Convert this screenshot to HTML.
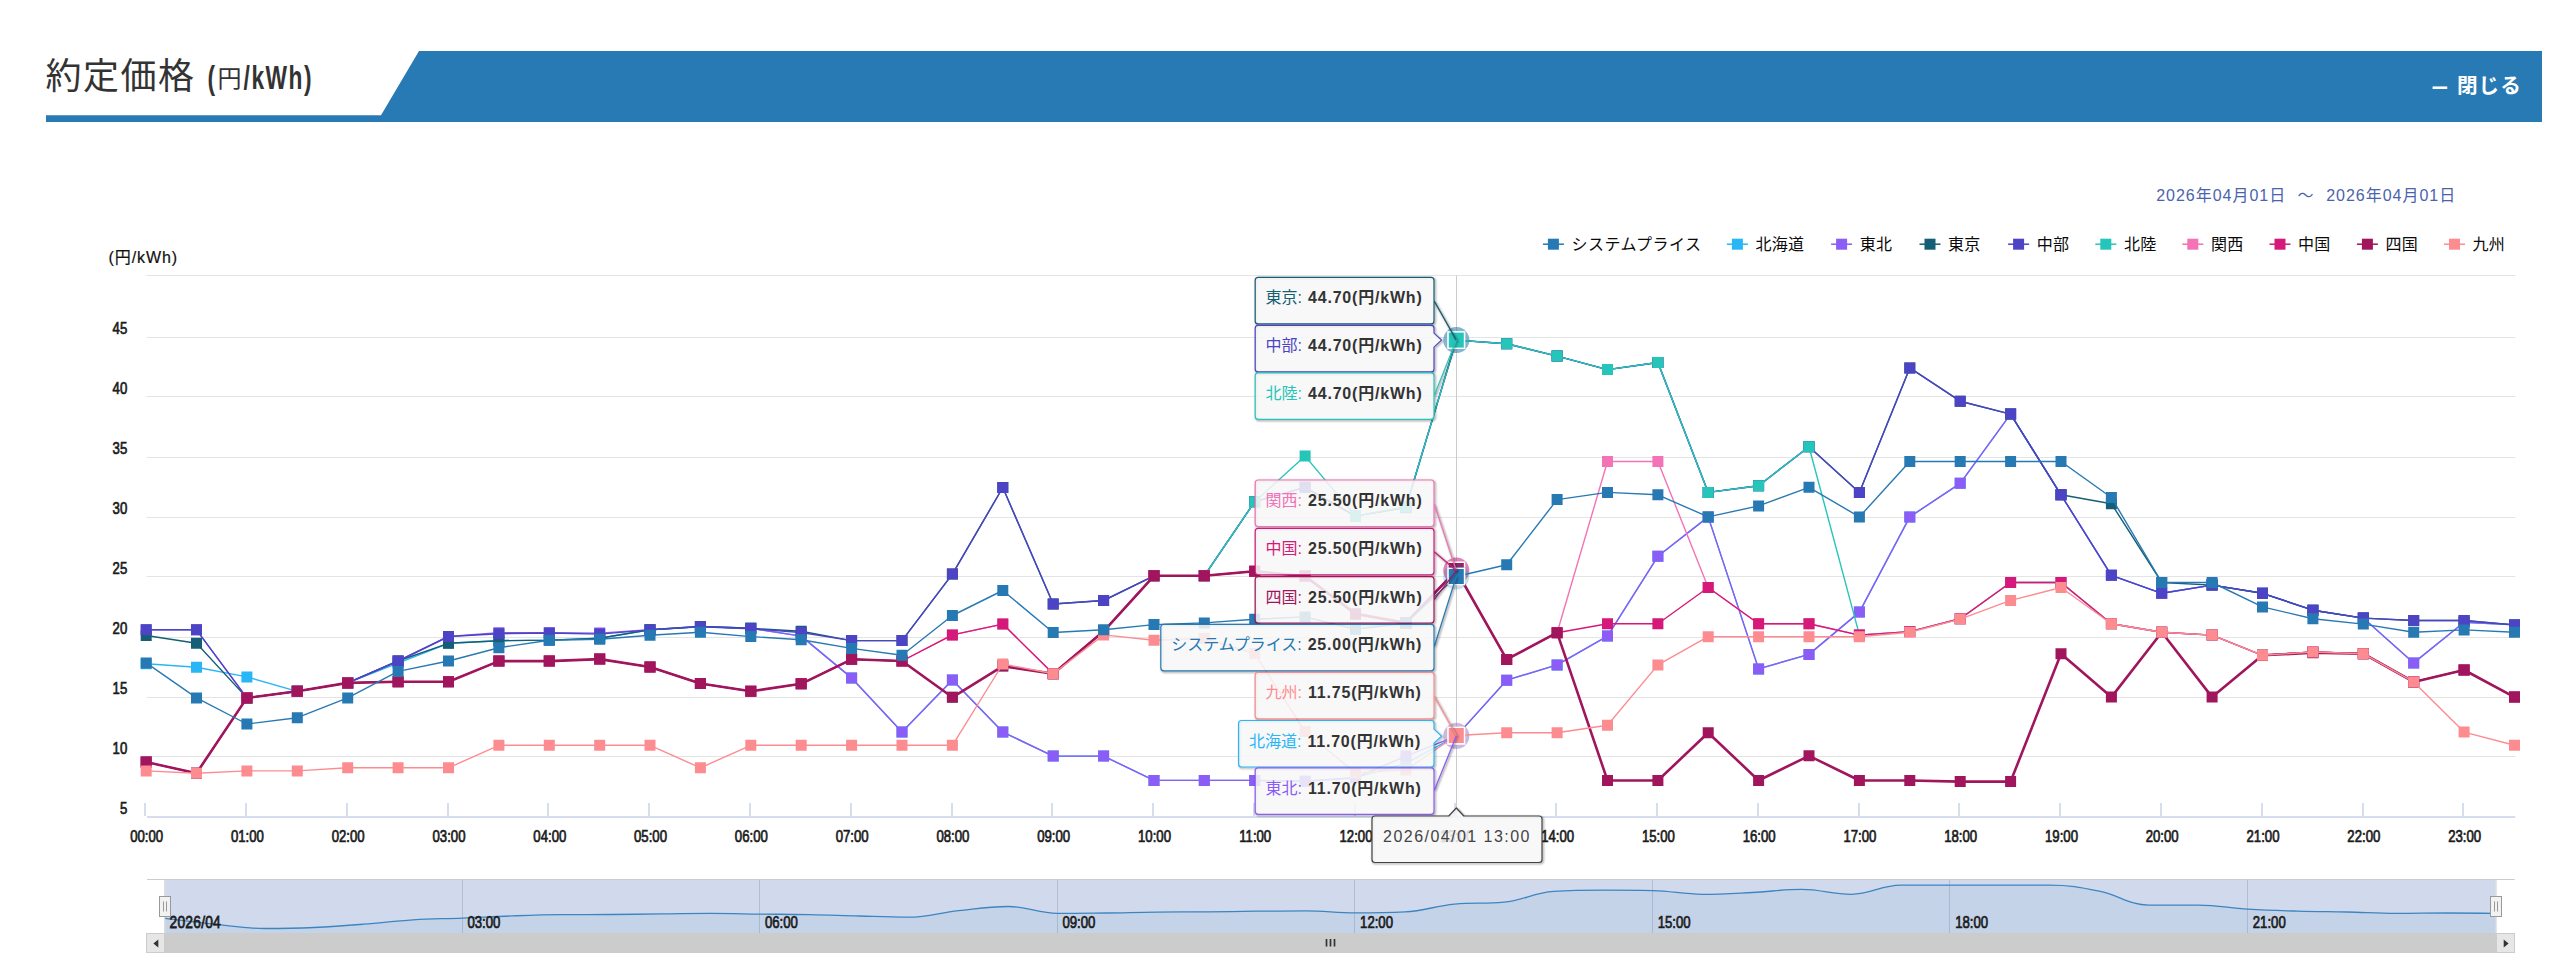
<!DOCTYPE html>
<html lang="ja">
<head>
<meta charset="utf-8">
<title>約定価格</title>
<style>
html,body{margin:0;padding:0;background:#fff;}
body{width:2560px;height:973px;position:relative;overflow:hidden;font-family:'Liberation Sans','Noto Sans CJK JP',sans-serif;}
.hd{position:absolute;left:45.5px;top:51px;width:2496.5px;height:71.3px;background:#287ab5;
  clip-path:polygon(373.5px 0,100% 0,100% 100%,0 100%,0 64.3px,335.5px 64.3px);}
.ttl{position:absolute;left:45.5px;top:49.6px;font-size:36px;letter-spacing:1.5px;line-height:54px;color:#333;white-space:nowrap;font-weight:400;}
.unit{position:absolute;left:207px;top:54px;white-space:nowrap;color:#333;}
.close{position:absolute;right:38px;top:70.6px;font-size:20.6px;letter-spacing:1.1px;line-height:30px;font-weight:bold;color:#fff;white-space:nowrap;}
.close span{position:relative;top:3.2px;left:1px;font-weight:900;}
.chart{position:absolute;left:0;top:0;}
</style>
</head>
<body>
<div class="hd"></div>
<div class="ttl">約定価格</div>
<svg class="unit" width="120" height="50" viewBox="0 0 120 50"><g font-family="'Liberation Sans','Noto Sans CJK JP',sans-serif" fill="#333"><text transform="translate(0.6 34.6) scale(0.68 1)" font-size="33.5" font-weight="bold">(</text><text x="10.5" y="33.2" font-size="24">円</text><text transform="translate(36.6 34.6) scale(0.68 1)" font-size="33.5" font-weight="bold" letter-spacing="2.2">/kWh)</text></g></svg>
<div class="close"><span>－</span> 閉じる</div>
<svg class="chart" width="2560" height="973" viewBox="0 0 2560 973">
<defs><filter id="sh" x="-10%" y="-20%" width="125%" height="150%"><feDropShadow dx="1" dy="1.5" stdDeviation="1.6" flood-color="#000" flood-opacity="0.28"/></filter><filter id="sh2" x="-10%" y="-20%" width="125%" height="150%"><feGaussianBlur in="SourceAlpha" stdDeviation="1.3"/><feOffset dx="1" dy="1"/><feComponentTransfer><feFuncA type="linear" slope="0.55"/></feComponentTransfer></filter></defs>
<g stroke="#e4e4e4" stroke-width="1.15" fill="none">
<path d="M146.5 275.5H2515.3"/>
<path d="M146.5 337.5H2515.3"/>
<path d="M146.5 396.5H2515.3"/>
<path d="M146.5 457.5H2515.3"/>
<path d="M146.5 517.5H2515.3"/>
<path d="M146.5 576.5H2515.3"/>
<path d="M146.5 637.5H2515.3"/>
<path d="M146.5 697.5H2515.3"/>
<path d="M146.5 756.5H2515.3"/>
</g>
<g stroke="#d6ddef" stroke-width="2" fill="none">
<path d="M147 817H2515.3"/>
<path d="M145 803V816M246 803V816M347 803V816M448 803V816M548 803V816M649 803V816M750 803V816M851 803V816M952 803V816M1052 803V816M1153 803V816M1254 803V816M1355 803V816M1455 803V816M1556 803V816M1657 803V816M1758 803V816M1859 803V816M1959 803V816M2060 803V816M2161 803V816M2262 803V816M2363 803V816M2463 803V816"/>
</g>
<g font-family="'Liberation Sans','Noto Sans CJK JP',sans-serif" font-size="17.2" fill="#1c1c1c" stroke="#1c1c1c" stroke-width="0.75" text-anchor="middle">
<text transform="translate(146.7 842.2) scale(0.765 1)">00:00</text>
<text transform="translate(247.4 842.2) scale(0.765 1)">01:00</text>
<text transform="translate(348.2 842.2) scale(0.765 1)">02:00</text>
<text transform="translate(449 842.2) scale(0.765 1)">03:00</text>
<text transform="translate(549.8 842.2) scale(0.765 1)">04:00</text>
<text transform="translate(650.5 842.2) scale(0.765 1)">05:00</text>
<text transform="translate(751.3 842.2) scale(0.765 1)">06:00</text>
<text transform="translate(852.1 842.2) scale(0.765 1)">07:00</text>
<text transform="translate(952.9 842.2) scale(0.765 1)">08:00</text>
<text transform="translate(1053.7 842.2) scale(0.765 1)">09:00</text>
<text transform="translate(1154.5 842.2) scale(0.765 1)">10:00</text>
<text transform="translate(1255.2 842.2) scale(0.765 1)">11:00</text>
<text transform="translate(1356 842.2) scale(0.765 1)">12:00</text>
<text transform="translate(1456.8 842.2) scale(0.765 1)">13:00</text>
<text transform="translate(1557.6 842.2) scale(0.765 1)">14:00</text>
<text transform="translate(1658.4 842.2) scale(0.765 1)">15:00</text>
<text transform="translate(1759.1 842.2) scale(0.765 1)">16:00</text>
<text transform="translate(1859.9 842.2) scale(0.765 1)">17:00</text>
<text transform="translate(1960.7 842.2) scale(0.765 1)">18:00</text>
<text transform="translate(2061.5 842.2) scale(0.765 1)">19:00</text>
<text transform="translate(2162.2 842.2) scale(0.765 1)">20:00</text>
<text transform="translate(2263 842.2) scale(0.765 1)">21:00</text>
<text transform="translate(2363.8 842.2) scale(0.765 1)">22:00</text>
<text transform="translate(2464.6 842.2) scale(0.765 1)">23:00</text>
</g>
<g font-family="'Liberation Sans','Noto Sans CJK JP',sans-serif" font-size="17.2" fill="#1c1c1c" stroke="#1c1c1c" stroke-width="0.75" text-anchor="end">
<text transform="translate(127.2 813.8) scale(0.765 1)">5</text>
<text transform="translate(127.2 753.8) scale(0.765 1)">10</text>
<text transform="translate(127.2 693.8) scale(0.765 1)">15</text>
<text transform="translate(127.2 633.8) scale(0.765 1)">20</text>
<text transform="translate(127.2 573.8) scale(0.765 1)">25</text>
<text transform="translate(127.2 513.8) scale(0.765 1)">30</text>
<text transform="translate(127.2 453.8) scale(0.765 1)">35</text>
<text transform="translate(127.2 393.8) scale(0.765 1)">40</text>
<text transform="translate(127.2 333.8) scale(0.765 1)">45</text>
</g>
<path d="M1456.5 275.5V816.5" stroke="#cccccc" stroke-width="1" fill="none"/>
<polyline points="146.2,663.7 196.5,667.3 246.9,676.9 297.3,691.3 347.7,682.9 398.1,663.1 448.5,643.3 498.9,640.7 549.3,640.1 599.7,638.2 650,629.8 700.4,626.5 750.8,628.3 801.2,636.1 851.6,677.9 902,732.1 952.4,679.9 1002.8,732.1 1053.2,756.1 1103.6,756.1 1154,780.4 1204.3,780.4 1254.7,780.4 1305.1,781.3 1355.5,777.7 1405.9,763.3 1456.3,736.1 1506.7,680.2 1557.1,664.9 1607.5,636.1 1657.9,556.3 1708.2,516.9 1758.6,668.9 1809,654.4 1859.4,612.1 1909.8,516.9 1960.2,483.3 2010.6,414.1 2061,494.8 2111.4,575.3 2161.8,593.3 2212.1,585.1 2262.5,593.3 2312.9,610.2 2363.3,618.1 2413.7,662.9 2464.1,622.3 2514.5,624.9" fill="none" stroke="#29b6f6" stroke-width="1.4" stroke-linejoin="round" stroke-linecap="round"/>
<path d="M140.7 658.2h11v11h-11zM191 661.8h11v11h-11zM241.4 671.4h11v11h-11zM291.8 685.8h11v11h-11zM342.2 677.4h11v11h-11zM392.6 657.6h11v11h-11zM443 637.8h11v11h-11zM493.4 635.2h11v11h-11zM543.8 634.6h11v11h-11zM594.2 632.7h11v11h-11zM644.5 624.3h11v11h-11zM694.9 621h11v11h-11zM745.3 622.8h11v11h-11zM795.7 630.6h11v11h-11zM846.1 672.4h11v11h-11zM896.5 726.6h11v11h-11zM946.9 674.4h11v11h-11zM997.3 726.6h11v11h-11zM1047.7 750.6h11v11h-11zM1098.1 750.6h11v11h-11zM1148.5 774.9h11v11h-11zM1198.8 774.9h11v11h-11zM1249.2 774.9h11v11h-11zM1299.6 775.8h11v11h-11zM1350 772.2h11v11h-11zM1400.4 757.8h11v11h-11zM1450.8 730.6h11v11h-11zM1501.2 674.7h11v11h-11zM1551.6 659.4h11v11h-11zM1602 630.6h11v11h-11zM1652.4 550.8h11v11h-11zM1702.7 511.4h11v11h-11zM1753.1 663.4h11v11h-11zM1803.5 648.9h11v11h-11zM1853.9 606.6h11v11h-11zM1904.3 511.4h11v11h-11zM1954.7 477.8h11v11h-11zM2005.1 408.6h11v11h-11zM2055.5 489.3h11v11h-11zM2105.9 569.8h11v11h-11zM2156.2 587.8h11v11h-11zM2206.6 579.6h11v11h-11zM2257 587.8h11v11h-11zM2307.4 604.7h11v11h-11zM2357.8 612.6h11v11h-11zM2408.2 657.4h11v11h-11zM2458.6 616.8h11v11h-11zM2509 619.4h11v11h-11z" fill="#29b6f6"/>
<circle cx="1456.3" cy="736.1" r="13" fill="#29b6f6" fill-opacity="0.25"/>
<rect x="1448.1" y="727.9" width="16.4" height="16.4" fill="#29b6f6" stroke="#fff" stroke-width="1.4"/>
<polyline points="146.2,629.8 196.5,629.8 246.9,697.9 297.3,691.3 347.7,682.9 398.1,661 448.5,636.5 498.9,632.8 549.3,632.8 599.7,633.1 650,629.8 700.4,626.5 750.8,628.3 801.2,636.1 851.6,677.9 902,732.1 952.4,679.9 1002.8,732.1 1053.2,756.1 1103.6,756.1 1154,780.4 1204.3,780.4 1254.7,780.4 1305.1,781.3 1355.5,777.7 1405.9,756.1 1456.3,736.1 1506.7,680.2 1557.1,664.9 1607.5,636.1 1657.9,556.3 1708.2,516.9 1758.6,668.9 1809,654.4 1859.4,612.1 1909.8,516.9 1960.2,483.3 2010.6,414.1 2061,494.8 2111.4,575.3 2161.8,593.3 2212.1,585.1 2262.5,593.3 2312.9,610.2 2363.3,618.1 2413.7,662.9 2464.1,622.3 2514.5,624.9" fill="none" stroke="#8b5cf6" stroke-width="1.4" stroke-linejoin="round" stroke-linecap="round"/>
<path d="M140.7 624.3h11v11h-11zM191 624.3h11v11h-11zM241.4 692.4h11v11h-11zM291.8 685.8h11v11h-11zM342.2 677.4h11v11h-11zM392.6 655.5h11v11h-11zM443 631h11v11h-11zM493.4 627.3h11v11h-11zM543.8 627.3h11v11h-11zM594.2 627.6h11v11h-11zM644.5 624.3h11v11h-11zM694.9 621h11v11h-11zM745.3 622.8h11v11h-11zM795.7 630.6h11v11h-11zM846.1 672.4h11v11h-11zM896.5 726.6h11v11h-11zM946.9 674.4h11v11h-11zM997.3 726.6h11v11h-11zM1047.7 750.6h11v11h-11zM1098.1 750.6h11v11h-11zM1148.5 774.9h11v11h-11zM1198.8 774.9h11v11h-11zM1249.2 774.9h11v11h-11zM1299.6 775.8h11v11h-11zM1350 772.2h11v11h-11zM1400.4 750.6h11v11h-11zM1450.8 730.6h11v11h-11zM1501.2 674.7h11v11h-11zM1551.6 659.4h11v11h-11zM1602 630.6h11v11h-11zM1652.4 550.8h11v11h-11zM1702.7 511.4h11v11h-11zM1753.1 663.4h11v11h-11zM1803.5 648.9h11v11h-11zM1853.9 606.6h11v11h-11zM1904.3 511.4h11v11h-11zM1954.7 477.8h11v11h-11zM2005.1 408.6h11v11h-11zM2055.5 489.3h11v11h-11zM2105.9 569.8h11v11h-11zM2156.2 587.8h11v11h-11zM2206.6 579.6h11v11h-11zM2257 587.8h11v11h-11zM2307.4 604.7h11v11h-11zM2357.8 612.6h11v11h-11zM2408.2 657.4h11v11h-11zM2458.6 616.8h11v11h-11zM2509 619.4h11v11h-11z" fill="#8b5cf6"/>
<circle cx="1456.3" cy="736.1" r="13" fill="#8b5cf6" fill-opacity="0.25"/>
<rect x="1448.1" y="727.9" width="16.4" height="16.4" fill="#8b5cf6" stroke="#fff" stroke-width="1.4"/>
<polyline points="146.2,635.5 196.5,643.3 246.9,697.9 297.3,691.3 347.7,682.9 398.1,661 448.5,643.3 498.9,640.7 549.3,640.1 599.7,638.2 650,629.8 700.4,626.5 750.8,628.3 801.2,631.3 851.6,640.6 902,640.6 952.4,574.1 1002.8,487.5 1053.2,604 1103.6,600.5 1154,575.8 1204.3,575.8 1254.7,501.7 1305.1,487.3 1355.5,516.1 1405.9,507.7 1456.3,340.1 1506.7,343.8 1557.1,356.1 1607.5,369.6 1657.9,362.5 1708.2,492.4 1758.6,485.7 1809,446.7 1859.4,492.4 1909.8,367.9 1960.2,401.2 2010.6,414.1 2061,494.8 2111.4,503.7 2161.8,582.5 2212.1,585.1 2262.5,593.3 2312.9,610.2 2363.3,618.1 2413.7,620.5 2464.1,620.5 2514.5,624.9" fill="none" stroke="#155e75" stroke-width="1.4" stroke-linejoin="round" stroke-linecap="round"/>
<path d="M140.7 630h11v11h-11zM191 637.8h11v11h-11zM241.4 692.4h11v11h-11zM291.8 685.8h11v11h-11zM342.2 677.4h11v11h-11zM392.6 655.5h11v11h-11zM443 637.8h11v11h-11zM493.4 635.2h11v11h-11zM543.8 634.6h11v11h-11zM594.2 632.7h11v11h-11zM644.5 624.3h11v11h-11zM694.9 621h11v11h-11zM745.3 622.8h11v11h-11zM795.7 625.8h11v11h-11zM846.1 635.1h11v11h-11zM896.5 635.1h11v11h-11zM946.9 568.6h11v11h-11zM997.3 482h11v11h-11zM1047.7 598.5h11v11h-11zM1098.1 595h11v11h-11zM1148.5 570.3h11v11h-11zM1198.8 570.3h11v11h-11zM1249.2 496.2h11v11h-11zM1299.6 481.8h11v11h-11zM1350 510.6h11v11h-11zM1400.4 502.2h11v11h-11zM1450.8 334.6h11v11h-11zM1501.2 338.3h11v11h-11zM1551.6 350.6h11v11h-11zM1602 364.1h11v11h-11zM1652.4 357h11v11h-11zM1702.7 486.9h11v11h-11zM1753.1 480.2h11v11h-11zM1803.5 441.2h11v11h-11zM1853.9 486.9h11v11h-11zM1904.3 362.4h11v11h-11zM1954.7 395.7h11v11h-11zM2005.1 408.6h11v11h-11zM2055.5 489.3h11v11h-11zM2105.9 498.2h11v11h-11zM2156.2 577h11v11h-11zM2206.6 579.6h11v11h-11zM2257 587.8h11v11h-11zM2307.4 604.7h11v11h-11zM2357.8 612.6h11v11h-11zM2408.2 615h11v11h-11zM2458.6 615h11v11h-11zM2509 619.4h11v11h-11z" fill="#155e75"/>
<circle cx="1456.3" cy="340.1" r="13" fill="#155e75" fill-opacity="0.25"/>
<rect x="1448.1" y="331.9" width="16.4" height="16.4" fill="#155e75" stroke="#fff" stroke-width="1.4"/>
<polyline points="146.2,629.8 196.5,629.8 246.9,697.9 297.3,691.3 347.7,682.9 398.1,661 448.5,636.5 498.9,633.7 549.3,633 599.7,634.1 650,629.9 700.4,626.8 750.8,628.7 801.2,632.5 851.6,640.6 902,640.6 952.4,574.1 1002.8,487.5 1053.2,604 1103.6,600.5 1154,575.8 1204.3,575.8 1254.7,501.7 1305.1,487.3 1355.5,516.1 1405.9,506.9 1456.3,340.1 1506.7,343.8 1557.1,356.1 1607.5,369.6 1657.9,362.5 1708.2,492.4 1758.6,485.7 1809,446.7 1859.4,492.4 1909.8,367.9 1960.2,401.2 2010.6,414.1 2061,494.8 2111.4,575.3 2161.8,593.3 2212.1,585.1 2262.5,593.3 2312.9,610.2 2363.3,618.1 2413.7,620.5 2464.1,620.5 2514.5,624.9" fill="none" stroke="#4c44c4" stroke-width="1.4" stroke-linejoin="round" stroke-linecap="round"/>
<path d="M140.7 624.3h11v11h-11zM191 624.3h11v11h-11zM241.4 692.4h11v11h-11zM291.8 685.8h11v11h-11zM342.2 677.4h11v11h-11zM392.6 655.5h11v11h-11zM443 631h11v11h-11zM493.4 628.2h11v11h-11zM543.8 627.5h11v11h-11zM594.2 628.6h11v11h-11zM644.5 624.4h11v11h-11zM694.9 621.3h11v11h-11zM745.3 623.2h11v11h-11zM795.7 627h11v11h-11zM846.1 635.1h11v11h-11zM896.5 635.1h11v11h-11zM946.9 568.6h11v11h-11zM997.3 482h11v11h-11zM1047.7 598.5h11v11h-11zM1098.1 595h11v11h-11zM1148.5 570.3h11v11h-11zM1198.8 570.3h11v11h-11zM1249.2 496.2h11v11h-11zM1299.6 481.8h11v11h-11zM1350 510.6h11v11h-11zM1400.4 501.4h11v11h-11zM1450.8 334.6h11v11h-11zM1501.2 338.3h11v11h-11zM1551.6 350.6h11v11h-11zM1602 364.1h11v11h-11zM1652.4 357h11v11h-11zM1702.7 486.9h11v11h-11zM1753.1 480.2h11v11h-11zM1803.5 441.2h11v11h-11zM1853.9 486.9h11v11h-11zM1904.3 362.4h11v11h-11zM1954.7 395.7h11v11h-11zM2005.1 408.6h11v11h-11zM2055.5 489.3h11v11h-11zM2105.9 569.8h11v11h-11zM2156.2 587.8h11v11h-11zM2206.6 579.6h11v11h-11zM2257 587.8h11v11h-11zM2307.4 604.7h11v11h-11zM2357.8 612.6h11v11h-11zM2408.2 615h11v11h-11zM2458.6 615h11v11h-11zM2509 619.4h11v11h-11z" fill="#4c44c4"/>
<circle cx="1456.3" cy="340.1" r="13" fill="#4c44c4" fill-opacity="0.25"/>
<rect x="1448.1" y="331.9" width="16.4" height="16.4" fill="#4c44c4" stroke="#fff" stroke-width="1.4"/>
<polyline points="146.2,762.1 196.5,773.2 246.9,697.9 297.3,691.3 347.7,682.9 398.1,681.7 448.5,681.7 498.9,661.1 549.3,661.1 599.7,659.1 650,667 700.4,683.5 750.8,691.3 801.2,683.8 851.6,659.3 902,661 952.4,697.3 1002.8,666.1 1053.2,673.8 1103.6,631.3 1154,575.8 1204.3,575.8 1254.7,501.7 1305.1,456.1 1355.5,516.1 1405.9,506.9 1456.3,340.1 1506.7,343.8 1557.1,356.1 1607.5,369.6 1657.9,362.5 1708.2,492.4 1758.6,485.7 1809,446.7 1859.4,634.9 1909.8,631.6 1960.2,618.7 2010.6,582.5 2061,582.5 2111.4,623.8 2161.8,632.3 2212.1,635.1 2262.5,655.3 2312.9,652 2363.3,653.7 2413.7,681.9 2464.1,670 2514.5,697.1" fill="none" stroke="#25c5b9" stroke-width="1.4" stroke-linejoin="round" stroke-linecap="round"/>
<path d="M140.7 756.6h11v11h-11zM191 767.7h11v11h-11zM241.4 692.4h11v11h-11zM291.8 685.8h11v11h-11zM342.2 677.4h11v11h-11zM392.6 676.2h11v11h-11zM443 676.2h11v11h-11zM493.4 655.6h11v11h-11zM543.8 655.6h11v11h-11zM594.2 653.6h11v11h-11zM644.5 661.5h11v11h-11zM694.9 678h11v11h-11zM745.3 685.8h11v11h-11zM795.7 678.3h11v11h-11zM846.1 653.8h11v11h-11zM896.5 655.5h11v11h-11zM946.9 691.8h11v11h-11zM997.3 660.6h11v11h-11zM1047.7 668.3h11v11h-11zM1098.1 625.8h11v11h-11zM1148.5 570.3h11v11h-11zM1198.8 570.3h11v11h-11zM1249.2 496.2h11v11h-11zM1299.6 450.6h11v11h-11zM1350 510.6h11v11h-11zM1400.4 501.4h11v11h-11zM1450.8 334.6h11v11h-11zM1501.2 338.3h11v11h-11zM1551.6 350.6h11v11h-11zM1602 364.1h11v11h-11zM1652.4 357h11v11h-11zM1702.7 486.9h11v11h-11zM1753.1 480.2h11v11h-11zM1803.5 441.2h11v11h-11zM1853.9 629.4h11v11h-11zM1904.3 626.1h11v11h-11zM1954.7 613.2h11v11h-11zM2005.1 577h11v11h-11zM2055.5 577h11v11h-11zM2105.9 618.3h11v11h-11zM2156.2 626.8h11v11h-11zM2206.6 629.6h11v11h-11zM2257 649.8h11v11h-11zM2307.4 646.5h11v11h-11zM2357.8 648.2h11v11h-11zM2408.2 676.4h11v11h-11zM2458.6 664.5h11v11h-11zM2509 691.6h11v11h-11z" fill="#25c5b9"/>
<circle cx="1456.3" cy="340.1" r="13" fill="#25c5b9" fill-opacity="0.25"/>
<rect x="1448.1" y="331.9" width="16.4" height="16.4" fill="#25c5b9" stroke="#fff" stroke-width="1.4"/>
<polyline points="146.2,762.1 196.5,773.2 246.9,697.9 297.3,691.3 347.7,682.9 398.1,681.7 448.5,681.7 498.9,661.1 549.3,661.1 599.7,659.1 650,667 700.4,683.5 750.8,691.3 801.2,683.8 851.6,659.3 902,661 952.4,634.9 1002.8,624.1 1053.2,673.8 1103.6,631.3 1154,575.8 1204.3,575.8 1254.7,571.3 1305.1,576.1 1355.5,613.9 1405.9,622.9 1456.3,570.5 1506.7,659.4 1557.1,632.7 1607.5,461.5 1657.9,461.5 1708.2,587.5 1758.6,623.8 1809,623.8 1859.4,635.1 1909.8,631.6 1960.2,618.7 2010.6,582.5 2061,582.5 2111.4,623.8 2161.8,632.3 2212.1,635.1 2262.5,655.3 2312.9,652 2363.3,653.7 2413.7,681.9 2464.1,670 2514.5,697.1" fill="none" stroke="#f472b6" stroke-width="1.4" stroke-linejoin="round" stroke-linecap="round"/>
<path d="M140.7 756.6h11v11h-11zM191 767.7h11v11h-11zM241.4 692.4h11v11h-11zM291.8 685.8h11v11h-11zM342.2 677.4h11v11h-11zM392.6 676.2h11v11h-11zM443 676.2h11v11h-11zM493.4 655.6h11v11h-11zM543.8 655.6h11v11h-11zM594.2 653.6h11v11h-11zM644.5 661.5h11v11h-11zM694.9 678h11v11h-11zM745.3 685.8h11v11h-11zM795.7 678.3h11v11h-11zM846.1 653.8h11v11h-11zM896.5 655.5h11v11h-11zM946.9 629.4h11v11h-11zM997.3 618.6h11v11h-11zM1047.7 668.3h11v11h-11zM1098.1 625.8h11v11h-11zM1148.5 570.3h11v11h-11zM1198.8 570.3h11v11h-11zM1249.2 565.8h11v11h-11zM1299.6 570.6h11v11h-11zM1350 608.4h11v11h-11zM1400.4 617.4h11v11h-11zM1450.8 565h11v11h-11zM1501.2 653.9h11v11h-11zM1551.6 627.2h11v11h-11zM1602 456h11v11h-11zM1652.4 456h11v11h-11zM1702.7 582h11v11h-11zM1753.1 618.3h11v11h-11zM1803.5 618.3h11v11h-11zM1853.9 629.6h11v11h-11zM1904.3 626.1h11v11h-11zM1954.7 613.2h11v11h-11zM2005.1 577h11v11h-11zM2055.5 577h11v11h-11zM2105.9 618.3h11v11h-11zM2156.2 626.8h11v11h-11zM2206.6 629.6h11v11h-11zM2257 649.8h11v11h-11zM2307.4 646.5h11v11h-11zM2357.8 648.2h11v11h-11zM2408.2 676.4h11v11h-11zM2458.6 664.5h11v11h-11zM2509 691.6h11v11h-11z" fill="#f472b6"/>
<circle cx="1456.3" cy="570.5" r="13" fill="#f472b6" fill-opacity="0.25"/>
<rect x="1448.1" y="562.3" width="16.4" height="16.4" fill="#f472b6" stroke="#fff" stroke-width="1.4"/>
<polyline points="146.2,762.1 196.5,773.2 246.9,697.9 297.3,691.3 347.7,682.9 398.1,681.7 448.5,681.7 498.9,661.1 549.3,661.1 599.7,659.1 650,667 700.4,683.5 750.8,691.3 801.2,683.8 851.6,659.3 902,661 952.4,634.9 1002.8,624.1 1053.2,673.8 1103.6,631.3 1154,575.8 1204.3,575.8 1254.7,571.3 1305.1,576.1 1355.5,613.9 1405.9,622.9 1456.3,570.5 1506.7,659.4 1557.1,632.7 1607.5,623.8 1657.9,623.8 1708.2,587.5 1758.6,623.8 1809,623.8 1859.4,635.1 1909.8,631.6 1960.2,618.7 2010.6,582.5 2061,582.5 2111.4,623.8 2161.8,632.3 2212.1,635.1 2262.5,655.3 2312.9,652 2363.3,653.7 2413.7,681.9 2464.1,670 2514.5,697.1" fill="none" stroke="#d5197a" stroke-width="1.4" stroke-linejoin="round" stroke-linecap="round"/>
<path d="M140.7 756.6h11v11h-11zM191 767.7h11v11h-11zM241.4 692.4h11v11h-11zM291.8 685.8h11v11h-11zM342.2 677.4h11v11h-11zM392.6 676.2h11v11h-11zM443 676.2h11v11h-11zM493.4 655.6h11v11h-11zM543.8 655.6h11v11h-11zM594.2 653.6h11v11h-11zM644.5 661.5h11v11h-11zM694.9 678h11v11h-11zM745.3 685.8h11v11h-11zM795.7 678.3h11v11h-11zM846.1 653.8h11v11h-11zM896.5 655.5h11v11h-11zM946.9 629.4h11v11h-11zM997.3 618.6h11v11h-11zM1047.7 668.3h11v11h-11zM1098.1 625.8h11v11h-11zM1148.5 570.3h11v11h-11zM1198.8 570.3h11v11h-11zM1249.2 565.8h11v11h-11zM1299.6 570.6h11v11h-11zM1350 608.4h11v11h-11zM1400.4 617.4h11v11h-11zM1450.8 565h11v11h-11zM1501.2 653.9h11v11h-11zM1551.6 627.2h11v11h-11zM1602 618.3h11v11h-11zM1652.4 618.3h11v11h-11zM1702.7 582h11v11h-11zM1753.1 618.3h11v11h-11zM1803.5 618.3h11v11h-11zM1853.9 629.6h11v11h-11zM1904.3 626.1h11v11h-11zM1954.7 613.2h11v11h-11zM2005.1 577h11v11h-11zM2055.5 577h11v11h-11zM2105.9 618.3h11v11h-11zM2156.2 626.8h11v11h-11zM2206.6 629.6h11v11h-11zM2257 649.8h11v11h-11zM2307.4 646.5h11v11h-11zM2357.8 648.2h11v11h-11zM2408.2 676.4h11v11h-11zM2458.6 664.5h11v11h-11zM2509 691.6h11v11h-11z" fill="#d5197a"/>
<circle cx="1456.3" cy="570.5" r="13" fill="#d5197a" fill-opacity="0.25"/>
<rect x="1448.1" y="562.3" width="16.4" height="16.4" fill="#d5197a" stroke="#fff" stroke-width="1.4"/>
<polyline points="146.2,762.1 196.5,773.2 246.9,697.9 297.3,691.3 347.7,682.9 398.1,681.7 448.5,681.7 498.9,661.1 549.3,661.1 599.7,659.1 650,667 700.4,683.5 750.8,691.3 801.2,683.8 851.6,659.3 902,661 952.4,697.3 1002.8,666.1 1053.2,673.8 1103.6,631.3 1154,575.8 1204.3,575.8 1254.7,571.3 1305.1,576.1 1355.5,613.9 1405.9,622.9 1456.3,570.5 1506.7,659.4 1557.1,632.7 1607.5,780.5 1657.9,780.5 1708.2,732.7 1758.6,780.5 1809,755.8 1859.4,780.5 1909.8,780.5 1960.2,781.6 2010.6,781.6 2061,653.7 2111.4,697.1 2161.8,632.3 2212.1,697.1 2262.5,655.3 2312.9,652.7 2363.3,653.7 2413.7,681.9 2464.1,670 2514.5,697.1" fill="none" stroke="#a0155c" stroke-width="2.6" stroke-linejoin="round" stroke-linecap="round"/>
<path d="M140.7 756.6h11v11h-11zM191 767.7h11v11h-11zM241.4 692.4h11v11h-11zM291.8 685.8h11v11h-11zM342.2 677.4h11v11h-11zM392.6 676.2h11v11h-11zM443 676.2h11v11h-11zM493.4 655.6h11v11h-11zM543.8 655.6h11v11h-11zM594.2 653.6h11v11h-11zM644.5 661.5h11v11h-11zM694.9 678h11v11h-11zM745.3 685.8h11v11h-11zM795.7 678.3h11v11h-11zM846.1 653.8h11v11h-11zM896.5 655.5h11v11h-11zM946.9 691.8h11v11h-11zM997.3 660.6h11v11h-11zM1047.7 668.3h11v11h-11zM1098.1 625.8h11v11h-11zM1148.5 570.3h11v11h-11zM1198.8 570.3h11v11h-11zM1249.2 565.8h11v11h-11zM1299.6 570.6h11v11h-11zM1350 608.4h11v11h-11zM1400.4 617.4h11v11h-11zM1450.8 565h11v11h-11zM1501.2 653.9h11v11h-11zM1551.6 627.2h11v11h-11zM1602 775h11v11h-11zM1652.4 775h11v11h-11zM1702.7 727.2h11v11h-11zM1753.1 775h11v11h-11zM1803.5 750.3h11v11h-11zM1853.9 775h11v11h-11zM1904.3 775h11v11h-11zM1954.7 776.1h11v11h-11zM2005.1 776.1h11v11h-11zM2055.5 648.2h11v11h-11zM2105.9 691.6h11v11h-11zM2156.2 626.8h11v11h-11zM2206.6 691.6h11v11h-11zM2257 649.8h11v11h-11zM2307.4 647.2h11v11h-11zM2357.8 648.2h11v11h-11zM2408.2 676.4h11v11h-11zM2458.6 664.5h11v11h-11zM2509 691.6h11v11h-11z" fill="#a0155c"/>
<circle cx="1456.3" cy="570.5" r="13" fill="#a0155c" fill-opacity="0.25"/>
<rect x="1448.1" y="562.3" width="16.4" height="16.4" fill="#a0155c" stroke="#fff" stroke-width="1.4"/>
<polyline points="146.2,770.9 196.5,773.2 246.9,770.9 297.3,770.9 347.7,767.8 398.1,767.8 448.5,767.8 498.9,745.3 549.3,745.3 599.7,745.3 650,745.3 700.4,767.8 750.8,745.3 801.2,745.3 851.6,745.3 902,745.3 952.4,745.3 1002.8,664 1053.2,673.8 1103.6,634.9 1154,640.2 1204.3,638.5 1254.7,653.5 1305.1,731.5 1355.5,772.9 1405.9,769.9 1456.3,735.5 1506.7,732.7 1557.1,732.7 1607.5,725.3 1657.9,664.9 1708.2,636.7 1758.6,636.7 1809,636.7 1859.4,636.7 1909.8,632.3 1960.2,619.1 2010.6,600.4 2061,587.5 2111.4,623.8 2161.8,632.3 2212.1,635.1 2262.5,655.3 2312.9,652 2363.3,653.7 2413.7,681.9 2464.1,732.1 2514.5,745.3" fill="none" stroke="#fd8c91" stroke-width="1.4" stroke-linejoin="round" stroke-linecap="round"/>
<path d="M140.7 765.4h11v11h-11zM191 767.7h11v11h-11zM241.4 765.4h11v11h-11zM291.8 765.4h11v11h-11zM342.2 762.3h11v11h-11zM392.6 762.3h11v11h-11zM443 762.3h11v11h-11zM493.4 739.8h11v11h-11zM543.8 739.8h11v11h-11zM594.2 739.8h11v11h-11zM644.5 739.8h11v11h-11zM694.9 762.3h11v11h-11zM745.3 739.8h11v11h-11zM795.7 739.8h11v11h-11zM846.1 739.8h11v11h-11zM896.5 739.8h11v11h-11zM946.9 739.8h11v11h-11zM997.3 658.5h11v11h-11zM1047.7 668.3h11v11h-11zM1098.1 629.4h11v11h-11zM1148.5 634.7h11v11h-11zM1198.8 633h11v11h-11zM1249.2 648h11v11h-11zM1299.6 726h11v11h-11zM1350 767.4h11v11h-11zM1400.4 764.4h11v11h-11zM1450.8 730h11v11h-11zM1501.2 727.2h11v11h-11zM1551.6 727.2h11v11h-11zM1602 719.8h11v11h-11zM1652.4 659.4h11v11h-11zM1702.7 631.2h11v11h-11zM1753.1 631.2h11v11h-11zM1803.5 631.2h11v11h-11zM1853.9 631.2h11v11h-11zM1904.3 626.8h11v11h-11zM1954.7 613.6h11v11h-11zM2005.1 594.9h11v11h-11zM2055.5 582h11v11h-11zM2105.9 618.3h11v11h-11zM2156.2 626.8h11v11h-11zM2206.6 629.6h11v11h-11zM2257 649.8h11v11h-11zM2307.4 646.5h11v11h-11zM2357.8 648.2h11v11h-11zM2408.2 676.4h11v11h-11zM2458.6 726.6h11v11h-11zM2509 739.8h11v11h-11z" fill="#fd8c91"/>
<circle cx="1456.3" cy="735.5" r="13" fill="#fd8c91" fill-opacity="0.25"/>
<rect x="1448.1" y="727.3" width="16.4" height="16.4" fill="#fd8c91" stroke="#fff" stroke-width="1.4"/>
<polyline points="146.2,662.9 196.5,697.9 246.9,724 297.3,717.7 347.7,697.9 398.1,671.4 448.5,661 498.9,647.7 549.3,640.2 599.7,639.3 650,635.2 700.4,632.3 750.8,636.6 801.2,639.7 851.6,648.4 902,655.3 952.4,615.5 1002.8,590.5 1053.2,632.5 1103.6,629.8 1154,624.6 1204.3,622.9 1254.7,619.3 1305.1,616.9 1355.5,629.3 1405.9,623.1 1456.3,576.5 1506.7,564.7 1557.1,499.6 1607.5,492.4 1657.9,494.8 1708.2,516.9 1758.6,505.9 1809,487.3 1859.4,516.9 1909.8,461.5 1960.2,461.5 2010.6,461.5 2061,461.5 2111.4,497.5 2161.8,582.5 2212.1,582.5 2262.5,606.9 2312.9,618.7 2363.3,624.1 2413.7,632.3 2464.1,629.9 2514.5,632.3" fill="none" stroke="#2779b4" stroke-width="1.4" stroke-linejoin="round" stroke-linecap="round"/>
<path d="M140.7 657.4h11v11h-11zM191 692.4h11v11h-11zM241.4 718.5h11v11h-11zM291.8 712.2h11v11h-11zM342.2 692.4h11v11h-11zM392.6 665.9h11v11h-11zM443 655.5h11v11h-11zM493.4 642.2h11v11h-11zM543.8 634.7h11v11h-11zM594.2 633.8h11v11h-11zM644.5 629.7h11v11h-11zM694.9 626.8h11v11h-11zM745.3 631.1h11v11h-11zM795.7 634.2h11v11h-11zM846.1 642.9h11v11h-11zM896.5 649.8h11v11h-11zM946.9 610h11v11h-11zM997.3 585h11v11h-11zM1047.7 627h11v11h-11zM1098.1 624.3h11v11h-11zM1148.5 619.1h11v11h-11zM1198.8 617.4h11v11h-11zM1249.2 613.8h11v11h-11zM1299.6 611.4h11v11h-11zM1350 623.8h11v11h-11zM1400.4 617.6h11v11h-11zM1450.8 571h11v11h-11zM1501.2 559.2h11v11h-11zM1551.6 494.1h11v11h-11zM1602 486.9h11v11h-11zM1652.4 489.3h11v11h-11zM1702.7 511.4h11v11h-11zM1753.1 500.4h11v11h-11zM1803.5 481.8h11v11h-11zM1853.9 511.4h11v11h-11zM1904.3 456h11v11h-11zM1954.7 456h11v11h-11zM2005.1 456h11v11h-11zM2055.5 456h11v11h-11zM2105.9 492h11v11h-11zM2156.2 577h11v11h-11zM2206.6 577h11v11h-11zM2257 601.4h11v11h-11zM2307.4 613.2h11v11h-11zM2357.8 618.6h11v11h-11zM2408.2 626.8h11v11h-11zM2458.6 624.4h11v11h-11zM2509 626.8h11v11h-11z" fill="#2779b4"/>
<circle cx="1456.3" cy="576.5" r="13" fill="#2779b4" fill-opacity="0.25"/>
<rect x="1448.1" y="568.3" width="16.4" height="16.4" fill="#2779b4" stroke="#fff" stroke-width="1.4"/>
<g font-family="'Liberation Sans','Noto Sans CJK JP',sans-serif" font-size="16">
<path d="M1258.2 277.4H1431Q1434 277.4 1434 280.4V300.6L1456.3 340.1L1434 300.6V320.9Q1434 323.9 1431 323.9H1258.2Q1255.2 323.9 1255.2 320.9V280.4Q1255.2 277.4 1258.2 277.4Z" fill="none" stroke="#155e75" stroke-width="1.2" stroke-linejoin="round" filter="url(#sh2)"/>
<path d="M1258.2 277.4H1431Q1434 277.4 1434 280.4V300.6L1456.3 340.1L1434 300.6V320.9Q1434 323.9 1431 323.9H1258.2Q1255.2 323.9 1255.2 320.9V280.4Q1255.2 277.4 1258.2 277.4Z" fill="#f7f7f7" fill-opacity="0.87" stroke="#155e75" stroke-width="1.2" stroke-linejoin="round"/>
<text x="1265.6" y="303.4" fill="#333"><tspan fill="#155e75">東京: </tspan><tspan font-weight="bold" letter-spacing="0.8" dx="1.5">44.70(円/kWh)</tspan></text>
<path d="M1258.2 325.4H1431Q1434 325.4 1434 328.4V333.1L1441.5 340.1L1434 347.1V368.9Q1434 371.9 1431 371.9H1258.2Q1255.2 371.9 1255.2 368.9V328.4Q1255.2 325.4 1258.2 325.4Z" fill="none" stroke="#4c44c4" stroke-width="1.2" stroke-linejoin="round" filter="url(#sh2)"/>
<path d="M1258.2 325.4H1431Q1434 325.4 1434 328.4V333.1L1441.5 340.1L1434 347.1V368.9Q1434 371.9 1431 371.9H1258.2Q1255.2 371.9 1255.2 368.9V328.4Q1255.2 325.4 1258.2 325.4Z" fill="#f7f7f7" fill-opacity="0.87" stroke="#4c44c4" stroke-width="1.2" stroke-linejoin="round"/>
<text x="1265.6" y="351.4" fill="#333"><tspan fill="#4c44c4">中部: </tspan><tspan font-weight="bold" letter-spacing="0.8" dx="1.5">44.70(円/kWh)</tspan></text>
<path d="M1258.2 372.8H1431Q1434 372.8 1434 375.8V396.1L1456.3 340.1L1434 396.1V416.3Q1434 419.3 1431 419.3H1258.2Q1255.2 419.3 1255.2 416.3V375.8Q1255.2 372.8 1258.2 372.8Z" fill="none" stroke="#25c5b9" stroke-width="1.2" stroke-linejoin="round" filter="url(#sh2)"/>
<path d="M1258.2 372.8H1431Q1434 372.8 1434 375.8V396.1L1456.3 340.1L1434 396.1V416.3Q1434 419.3 1431 419.3H1258.2Q1255.2 419.3 1255.2 416.3V375.8Q1255.2 372.8 1258.2 372.8Z" fill="#f7f7f7" fill-opacity="0.87" stroke="#25c5b9" stroke-width="1.2" stroke-linejoin="round"/>
<text x="1265.6" y="398.8" fill="#333"><tspan fill="#25c5b9">北陸: </tspan><tspan font-weight="bold" letter-spacing="0.8" dx="1.5">44.70(円/kWh)</tspan></text>
<path d="M1258.2 480H1431Q1434 480 1434 483V503.2L1456.3 570.5L1434 503.2V523.5Q1434 526.5 1431 526.5H1258.2Q1255.2 526.5 1255.2 523.5V483Q1255.2 480 1258.2 480Z" fill="none" stroke="#f472b6" stroke-width="1.2" stroke-linejoin="round" filter="url(#sh2)"/>
<path d="M1258.2 480H1431Q1434 480 1434 483V503.2L1456.3 570.5L1434 503.2V523.5Q1434 526.5 1431 526.5H1258.2Q1255.2 526.5 1255.2 523.5V483Q1255.2 480 1258.2 480Z" fill="#f7f7f7" fill-opacity="0.87" stroke="#f472b6" stroke-width="1.2" stroke-linejoin="round"/>
<text x="1265.6" y="506" fill="#333"><tspan fill="#f472b6">関西: </tspan><tspan font-weight="bold" letter-spacing="0.8" dx="1.5">25.50(円/kWh)</tspan></text>
<path d="M1258.2 528.3H1431Q1434 528.3 1434 531.3V551.5L1456.3 570.5L1434 551.5V571.8Q1434 574.8 1431 574.8H1258.2Q1255.2 574.8 1255.2 571.8V531.3Q1255.2 528.3 1258.2 528.3Z" fill="none" stroke="#d5197a" stroke-width="1.2" stroke-linejoin="round" filter="url(#sh2)"/>
<path d="M1258.2 528.3H1431Q1434 528.3 1434 531.3V551.5L1456.3 570.5L1434 551.5V571.8Q1434 574.8 1431 574.8H1258.2Q1255.2 574.8 1255.2 571.8V531.3Q1255.2 528.3 1258.2 528.3Z" fill="#f7f7f7" fill-opacity="0.87" stroke="#d5197a" stroke-width="1.2" stroke-linejoin="round"/>
<text x="1265.6" y="554.3" fill="#333"><tspan fill="#d5197a">中国: </tspan><tspan font-weight="bold" letter-spacing="0.8" dx="1.5">25.50(円/kWh)</tspan></text>
<path d="M1258.2 576.6H1431Q1434 576.6 1434 579.6V599.9L1456.3 570.5L1434 599.9V620.1Q1434 623.1 1431 623.1H1258.2Q1255.2 623.1 1255.2 620.1V579.6Q1255.2 576.6 1258.2 576.6Z" fill="none" stroke="#a0155c" stroke-width="1.2" stroke-linejoin="round" filter="url(#sh2)"/>
<path d="M1258.2 576.6H1431Q1434 576.6 1434 579.6V599.9L1456.3 570.5L1434 599.9V620.1Q1434 623.1 1431 623.1H1258.2Q1255.2 623.1 1255.2 620.1V579.6Q1255.2 576.6 1258.2 576.6Z" fill="#f7f7f7" fill-opacity="0.87" stroke="#a0155c" stroke-width="1.2" stroke-linejoin="round"/>
<text x="1265.6" y="602.6" fill="#333"><tspan fill="#a0155c">四国: </tspan><tspan font-weight="bold" letter-spacing="0.8" dx="1.5">25.50(円/kWh)</tspan></text>
<path d="M1163.8 624.3H1431Q1434 624.3 1434 627.3V647.5L1456.3 576.5L1434 647.5V667.8Q1434 670.8 1431 670.8H1163.8Q1160.8 670.8 1160.8 667.8V627.3Q1160.8 624.3 1163.8 624.3Z" fill="none" stroke="#2779b4" stroke-width="1.2" stroke-linejoin="round" filter="url(#sh2)"/>
<path d="M1163.8 624.3H1431Q1434 624.3 1434 627.3V647.5L1456.3 576.5L1434 647.5V667.8Q1434 670.8 1431 670.8H1163.8Q1160.8 670.8 1160.8 667.8V627.3Q1160.8 624.3 1163.8 624.3Z" fill="#f7f7f7" fill-opacity="0.87" stroke="#2779b4" stroke-width="1.2" stroke-linejoin="round"/>
<text x="1171.2" y="650.3" fill="#333"><tspan fill="#2779b4">システムプライス: </tspan><tspan font-weight="bold" letter-spacing="0.8" dx="1.5">25.00(円/kWh)</tspan></text>
<path d="M1258.2 672.3H1431Q1434 672.3 1434 675.3V695.5L1456.3 735.5L1434 695.5V715.8Q1434 718.8 1431 718.8H1258.2Q1255.2 718.8 1255.2 715.8V675.3Q1255.2 672.3 1258.2 672.3Z" fill="none" stroke="#fd8c91" stroke-width="1.2" stroke-linejoin="round" filter="url(#sh2)"/>
<path d="M1258.2 672.3H1431Q1434 672.3 1434 675.3V695.5L1456.3 735.5L1434 695.5V715.8Q1434 718.8 1431 718.8H1258.2Q1255.2 718.8 1255.2 715.8V675.3Q1255.2 672.3 1258.2 672.3Z" fill="#f7f7f7" fill-opacity="0.87" stroke="#fd8c91" stroke-width="1.2" stroke-linejoin="round"/>
<text x="1265.6" y="698.3" fill="#333"><tspan fill="#fd8c91">九州: </tspan><tspan font-weight="bold" letter-spacing="0.8" dx="1.5">11.75(円/kWh)</tspan></text>
<path d="M1241.6 720.5H1431Q1434 720.5 1434 723.5V729.1L1441.5 736.1L1434 743.1V764Q1434 767 1431 767H1241.6Q1238.6 767 1238.6 764V723.5Q1238.6 720.5 1241.6 720.5Z" fill="none" stroke="#29b6f6" stroke-width="1.2" stroke-linejoin="round" filter="url(#sh2)"/>
<path d="M1241.6 720.5H1431Q1434 720.5 1434 723.5V729.1L1441.5 736.1L1434 743.1V764Q1434 767 1431 767H1241.6Q1238.6 767 1238.6 764V723.5Q1238.6 720.5 1241.6 720.5Z" fill="#f7f7f7" fill-opacity="0.87" stroke="#29b6f6" stroke-width="1.2" stroke-linejoin="round"/>
<text x="1249" y="746.5" fill="#333"><tspan fill="#29b6f6">北海道: </tspan><tspan font-weight="bold" letter-spacing="0.8" dx="1.5">11.70(円/kWh)</tspan></text>
<path d="M1258.2 767.8H1431Q1434 767.8 1434 770.8V791L1456.3 736.1L1434 791V811.3Q1434 814.3 1431 814.3H1258.2Q1255.2 814.3 1255.2 811.3V770.8Q1255.2 767.8 1258.2 767.8Z" fill="none" stroke="#8b5cf6" stroke-width="1.2" stroke-linejoin="round" filter="url(#sh2)"/>
<path d="M1258.2 767.8H1431Q1434 767.8 1434 770.8V791L1456.3 736.1L1434 791V811.3Q1434 814.3 1431 814.3H1258.2Q1255.2 814.3 1255.2 811.3V770.8Q1255.2 767.8 1258.2 767.8Z" fill="#f7f7f7" fill-opacity="0.87" stroke="#8b5cf6" stroke-width="1.2" stroke-linejoin="round"/>
<text x="1265.6" y="793.8" fill="#333"><tspan fill="#8b5cf6">東北: </tspan><tspan font-weight="bold" letter-spacing="0.8" dx="1.5">11.70(円/kWh)</tspan></text>
</g>
<path d="M1375 816H1448.8L1456.3 808L1463.8 816H1539Q1542 816 1542 819V859.5Q1542 862.5 1539 862.5H1375Q1372 862.5 1372 859.5V819Q1372 816 1375 816Z" fill="none" stroke="#444" stroke-width="1.2" stroke-linejoin="round" filter="url(#sh2)"/>
<path d="M1375 816H1448.8L1456.3 808L1463.8 816H1539Q1542 816 1542 819V859.5Q1542 862.5 1539 862.5H1375Q1372 862.5 1372 859.5V819Q1372 816 1375 816Z" fill="#f7f7f7" fill-opacity="0.87" stroke="#444" stroke-width="1.2" stroke-linejoin="round"/>
<text x="1457" y="842" text-anchor="middle" font-family="'Liberation Sans','Noto Sans CJK JP',sans-serif" font-size="16" letter-spacing="1.45" fill="#444">2026/04/01 13:00</text>
<rect x="165.3" y="880" width="2330.2" height="53" fill="#6685c2" fill-opacity="0.3"/>
<path d="M462.5 880V933M759.5 880V933M1057.5 880V933M1354.5 880V933M1652.5 880V933M1949.5 880V933M2247.5 880V933" stroke="#8b9bbd" stroke-opacity="0.45" stroke-width="1" fill="none"/>
<path d="M165.0 918.4C165.0 918.4 194.8 922.2 214.6 924.2C234.4 926.3 244.4 928.5 264.2 928.5C284.0 928.5 293.9 928.4 313.8 927.5C333.6 926.6 343.5 925.8 363.4 924.2C383.2 922.7 393.1 921.1 413.0 919.8C432.8 918.6 442.7 918.9 462.6 918.1C482.4 917.3 492.3 916.6 512.2 915.9C532.0 915.2 541.9 914.8 561.8 914.7C581.6 914.5 591.5 914.7 611.4 914.5C631.2 914.4 641.1 914.1 661.0 913.9C680.8 913.6 690.7 913.4 710.6 913.4C730.4 913.4 740.3 913.8 760.1 914.1C780.0 914.3 789.9 914.2 809.7 914.6C829.6 915.0 839.5 915.5 859.3 916.0C879.2 916.6 889.1 917.2 908.9 917.2C928.8 917.2 938.7 912.7 958.5 910.6C978.4 908.5 988.3 906.5 1008.1 906.5C1028.0 906.5 1037.9 913.4 1057.7 913.4C1077.6 913.4 1087.5 913.2 1107.3 913.0C1127.2 912.7 1137.1 912.3 1156.9 912.1C1176.8 911.9 1186.7 912.0 1206.5 911.8C1226.3 911.7 1236.3 911.4 1256.1 911.2C1275.9 911.0 1285.9 910.8 1305.7 910.8C1325.5 910.8 1335.5 912.9 1355.3 912.9C1375.1 912.9 1385.1 912.9 1404.9 911.9C1424.7 910.8 1434.7 906.1 1454.5 904.2C1474.3 902.2 1484.2 904.2 1504.1 902.2C1523.9 900.3 1533.8 892.6 1553.7 891.4C1573.5 890.2 1583.4 890.2 1603.3 890.2C1623.1 890.2 1633.0 890.2 1652.9 890.6C1672.7 891.0 1682.6 894.3 1702.5 894.3C1722.3 894.3 1732.2 893.5 1752.1 892.5C1771.9 891.5 1781.8 889.4 1801.7 889.4C1821.5 889.4 1831.4 894.3 1851.3 894.3C1871.1 894.3 1881.0 885.1 1900.9 885.1C1920.7 885.1 1930.6 885.1 1950.4 885.1C1970.3 885.1 1980.2 885.1 2000.0 885.1C2019.9 885.1 2029.8 885.1 2049.6 885.1C2069.5 885.1 2079.4 887.1 2099.2 891.1C2119.1 895.1 2129.0 905.1 2148.8 905.1C2168.7 905.1 2178.6 905.1 2198.4 905.1C2218.3 905.1 2228.2 908.0 2248.0 909.2C2267.9 910.4 2277.8 910.6 2297.6 911.1C2317.5 911.7 2327.4 911.6 2347.2 912.0C2367.1 912.5 2377.0 913.4 2396.8 913.4C2416.6 913.4 2426.6 913.0 2446.4 913.0C2466.2 913.0 2496.0 913.4 2496.0 913.4L2496 933L165 933Z" fill="#2779b4" fill-opacity="0.07" stroke="none"/>
<path d="M165.0 918.4C165.0 918.4 194.8 922.2 214.6 924.2C234.4 926.3 244.4 928.5 264.2 928.5C284.0 928.5 293.9 928.4 313.8 927.5C333.6 926.6 343.5 925.8 363.4 924.2C383.2 922.7 393.1 921.1 413.0 919.8C432.8 918.6 442.7 918.9 462.6 918.1C482.4 917.3 492.3 916.6 512.2 915.9C532.0 915.2 541.9 914.8 561.8 914.7C581.6 914.5 591.5 914.7 611.4 914.5C631.2 914.4 641.1 914.1 661.0 913.9C680.8 913.6 690.7 913.4 710.6 913.4C730.4 913.4 740.3 913.8 760.1 914.1C780.0 914.3 789.9 914.2 809.7 914.6C829.6 915.0 839.5 915.5 859.3 916.0C879.2 916.6 889.1 917.2 908.9 917.2C928.8 917.2 938.7 912.7 958.5 910.6C978.4 908.5 988.3 906.5 1008.1 906.5C1028.0 906.5 1037.9 913.4 1057.7 913.4C1077.6 913.4 1087.5 913.2 1107.3 913.0C1127.2 912.7 1137.1 912.3 1156.9 912.1C1176.8 911.9 1186.7 912.0 1206.5 911.8C1226.3 911.7 1236.3 911.4 1256.1 911.2C1275.9 911.0 1285.9 910.8 1305.7 910.8C1325.5 910.8 1335.5 912.9 1355.3 912.9C1375.1 912.9 1385.1 912.9 1404.9 911.9C1424.7 910.8 1434.7 906.1 1454.5 904.2C1474.3 902.2 1484.2 904.2 1504.1 902.2C1523.9 900.3 1533.8 892.6 1553.7 891.4C1573.5 890.2 1583.4 890.2 1603.3 890.2C1623.1 890.2 1633.0 890.2 1652.9 890.6C1672.7 891.0 1682.6 894.3 1702.5 894.3C1722.3 894.3 1732.2 893.5 1752.1 892.5C1771.9 891.5 1781.8 889.4 1801.7 889.4C1821.5 889.4 1831.4 894.3 1851.3 894.3C1871.1 894.3 1881.0 885.1 1900.9 885.1C1920.7 885.1 1930.6 885.1 1950.4 885.1C1970.3 885.1 1980.2 885.1 2000.0 885.1C2019.9 885.1 2029.8 885.1 2049.6 885.1C2069.5 885.1 2079.4 887.1 2099.2 891.1C2119.1 895.1 2129.0 905.1 2148.8 905.1C2168.7 905.1 2178.6 905.1 2198.4 905.1C2218.3 905.1 2228.2 908.0 2248.0 909.2C2267.9 910.4 2277.8 910.6 2297.6 911.1C2317.5 911.7 2327.4 911.6 2347.2 912.0C2367.1 912.5 2377.0 913.4 2396.8 913.4C2416.6 913.4 2426.6 913.0 2446.4 913.0C2466.2 913.0 2496.0 913.4 2496.0 913.4" fill="none" stroke="#3d85c0" stroke-width="1.3"/>
<g font-family="'Liberation Sans','Noto Sans CJK JP',sans-serif" font-size="17.2" fill="#1c1c1c" stroke="#1c1c1c" stroke-width="0.75">
<text transform="translate(169.6 928.2) scale(0.8 1)" letter-spacing="0.3">2026/04</text>
<text transform="translate(467.4 928.2) scale(0.765 1)">03:00</text>
<text transform="translate(764.9 928.2) scale(0.765 1)">06:00</text>
<text transform="translate(1062.5 928.2) scale(0.765 1)">09:00</text>
<text transform="translate(1360.1 928.2) scale(0.765 1)">12:00</text>
<text transform="translate(1657.7 928.2) scale(0.765 1)">15:00</text>
<text transform="translate(1955.2 928.2) scale(0.765 1)">18:00</text>
<text transform="translate(2252.8 928.2) scale(0.765 1)">21:00</text>
</g>
<path d="M147 879.5H2514.8M164.8 880V933M2496 880V933" stroke="#cccccc" stroke-width="1" fill="none"/>
<rect x="146" y="933" width="2369" height="20" fill="#cccccc"/>
<rect x="146.5" y="933.5" width="18" height="19" fill="#e6e6e6" stroke="#cccccc" stroke-width="1"/>
<rect x="2496.5" y="933.5" width="18" height="19" fill="#e6e6e6" stroke="#cccccc" stroke-width="1"/>
<path d="M158.3 939.6L153.4 943.6L158.3 947.6Z" fill="#333"/>
<path d="M2503.7 939.6L2508.6 943.6L2503.7 947.6Z" fill="#333"/>
<path d="M1326.5 939V946.5M1330.5 939V946.5M1334.5 939V946.5" stroke="#333" stroke-width="1.7" fill="none"/>
<rect x="159.5" y="896.5" width="11" height="20" fill="#f2f2f2" stroke="#999999" stroke-width="1"/>
<path d="M163.5 901.5V911.5M166.5 901.5V911.5" stroke="#999999" stroke-width="1" fill="none"/>
<rect x="2490.5" y="896.5" width="11" height="20" fill="#f2f2f2" stroke="#999999" stroke-width="1"/>
<path d="M2494.5 901.5V911.5M2497.5 901.5V911.5" stroke="#999999" stroke-width="1" fill="none"/>
<g font-family="'Liberation Sans','Noto Sans CJK JP',sans-serif" font-size="16" fill="#0a0a0a" letter-spacing="0.25">
<path d="M1542.9 244.2H1563.9" stroke="#2779b4" stroke-width="1.5"/>
<rect x="1547.9" y="238.7" width="11" height="11" fill="#2779b4"/>
<text x="1571.5" y="250" letter-spacing="0.5">システムプライス</text>
<path d="M1726.9 244.2H1747.9" stroke="#29b6f6" stroke-width="1.5"/>
<rect x="1731.9" y="238.7" width="11" height="11" fill="#29b6f6"/>
<text x="1755.5" y="250">北海道</text>
<path d="M1831.1 244.2H1852.1" stroke="#8b5cf6" stroke-width="1.5"/>
<rect x="1836.1" y="238.7" width="11" height="11" fill="#8b5cf6"/>
<text x="1859.7" y="250">東北</text>
<path d="M1919.5 244.2H1940.5" stroke="#155e75" stroke-width="1.5"/>
<rect x="1924.5" y="238.7" width="11" height="11" fill="#155e75"/>
<text x="1948.1" y="250">東京</text>
<path d="M2008.1 244.2H2029.1" stroke="#4c44c4" stroke-width="1.5"/>
<rect x="2013.1" y="238.7" width="11" height="11" fill="#4c44c4"/>
<text x="2036.7" y="250">中部</text>
<path d="M2095.3 244.2H2116.3" stroke="#25c5b9" stroke-width="1.5"/>
<rect x="2100.3" y="238.7" width="11" height="11" fill="#25c5b9"/>
<text x="2123.9" y="250">北陸</text>
<path d="M2182.3 244.2H2203.3" stroke="#f472b6" stroke-width="1.5"/>
<rect x="2187.3" y="238.7" width="11" height="11" fill="#f472b6"/>
<text x="2210.9" y="250">関西</text>
<path d="M2269.5 244.2H2290.5" stroke="#d5197a" stroke-width="1.5"/>
<rect x="2274.5" y="238.7" width="11" height="11" fill="#d5197a"/>
<text x="2298.1" y="250">中国</text>
<path d="M2356.9 244.2H2377.9" stroke="#a0155c" stroke-width="1.5"/>
<rect x="2361.9" y="238.7" width="11" height="11" fill="#a0155c"/>
<text x="2385.5" y="250">四国</text>
<path d="M2444 244.2H2465" stroke="#fd8c91" stroke-width="1.5"/>
<rect x="2449" y="238.7" width="11" height="11" fill="#fd8c91"/>
<text x="2472.6" y="250">九州</text>
</g>
<text x="108.6" y="263" font-family="'Liberation Sans','Noto Sans CJK JP',sans-serif" font-size="16" letter-spacing="0.9" fill="#111" stroke="#111" stroke-width="0.2">(円/kWh)</text>
<g font-family="'Liberation Sans','Noto Sans CJK JP',sans-serif" font-size="16" letter-spacing="0.98" fill="#4a63ad">
<text x="2156.2" y="200.7">2026年04月01日</text>
<text x="2297.6" y="200.7">～</text>
<text x="2326.2" y="200.7">2026年04月01日</text>
</g>
</svg>
</body>
</html>
